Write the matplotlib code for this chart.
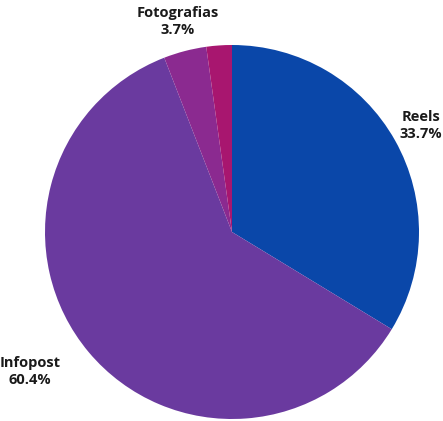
import numpy as np
import matplotlib.pyplot as plt

# datos del grafico
categorias = ["Reels", "Infopost", "Fotografias", "Otros"]
valores = [33.7, 60.4, 3.7, 2.2]
etiquetas = ["Reels\n33.7%", "Infopost\n60.4%", "Fotografias\n3.7%", ""]
colores = ["#0a47a9", "#6a3a9f", "#8b2a90", "#a8166f"]

plt.rcParams['font.family'] = ['Open Sans', 'DejaVu Sans']

fig = plt.figure(figsize=(4.43, 4.21), dpi=100)
ax = fig.add_axes([45 / 443, 2 / 421, 374 / 443, 374 / 421])

wedges, textos = ax.pie(valores, labels=etiquetas, colors=colores, startangle=90,
                        counterclock=False, radius=1, labeldistance=1.17,
                        textprops=dict(fontsize=10.5, fontweight='bold', color='#1a1a1a',
                                       ha='center', va='center', linespacing=1.3))
for t in textos:
    t.set_horizontalalignment('center')

# ajuste de posicion de etiquetas
textos[0].set_position((1.01, 0.57))
textos[1].set_position((-1.08, -0.745))
textos[2].set_position((-0.29, 1.125))

ax.set_xlim(-1, 1)
ax.set_ylim(-1, 1)
ax.set_aspect('equal')
ax.axis('off')

fig.savefig("out.png", dpi=100)
